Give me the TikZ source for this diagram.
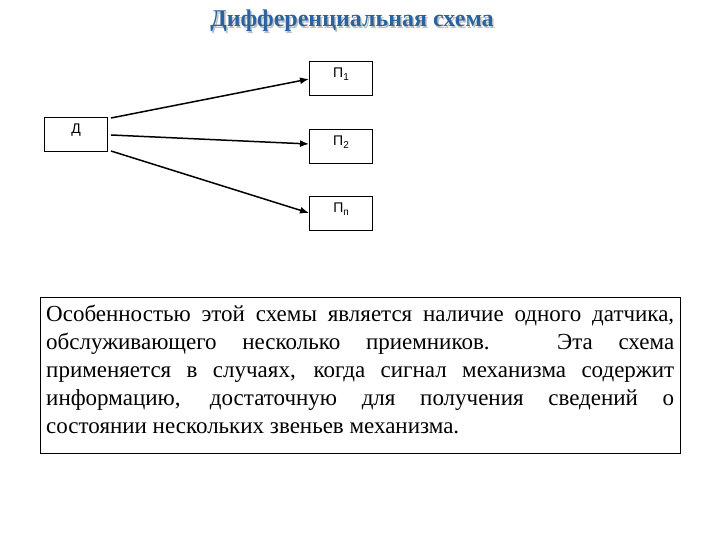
\documentclass[tikz,border=0pt]{standalone}
\usepackage{fontspec}
\setmainfont{Liberation Serif}
\newfontfamily\boxfont{Liberation Sans}
\usetikzlibrary{arrows.meta}
\newcommand{\lsub}[1]{\raisebox{-0.4ex}{\fontsize{10}{11}\selectfont #1}}
\begin{document}
\begin{tikzpicture}[x=1pt,y=-1pt,
  bx/.style={draw,line width=0.8pt,minimum width=63pt,minimum height=34pt,inner sep=0pt,anchor=north west},
  lb/.style={font=\boxfont\fontsize{14}{16}\selectfont},
  arr/.style={-{Latex[length=9pt,width=7pt]},line width=1.5pt}]
\useasboundingbox (0,0) rectangle (720,540);
\definecolor{tblue}{HTML}{2A64A0}
\node[text=gray!50,font=\bfseries\fontsize{24}{26}\selectfont] at (353.5,22.5) {Дифференциальная схема};
\node (t) [text=tblue,font=\bfseries\fontsize{24}{26}\selectfont] at (352,21) {Дифференциальная схема};
\node[bx] (d) at (44,117) {};
\node[lb] (dl) at (76,130) {Д};
\node[bx] (p1) at (309,61) {};
\node[lb] (p1l) at (341,74) {П\lsub{1}};
\node[bx] (p2) at (309,129) {};
\node[lb] (p2l) at (341,142) {П\lsub{2}};
\node[bx] (pn) at (309,196) {};
\node[lb] (pnl) at (341,209) {П\lsub{п}};
\coordinate (a1) at (111,118);
\coordinate (a2) at (111,135);
\coordinate (a3) at (111,151);
\draw[arr] (a1) -- (p1.west |- 0,79);
\draw[arr] (a2) -- (p2.west |- 0,144);
\draw[arr] (a3) -- (pn.west |- 0,213);
\node[draw,line width=0.8pt,anchor=north west,minimum width=640pt,minimum height=156pt] (tb) at (40,297) {};
\node[anchor=north west,text width=628pt,align=justify,inner sep=0pt,font=\fontsize{23}{28}\selectfont] (txt) at (46,305)
{Особенностью этой схемы является наличие одного датчика,\linebreak
обслуживающего несколько приемников. Эта схема\linebreak
применяется в случаях, когда сигнал механизма содержит\linebreak
информацию, достаточную для получения сведений о\linebreak
состоянии нескольких звеньев механизма.};
\end{tikzpicture}
\end{document}
